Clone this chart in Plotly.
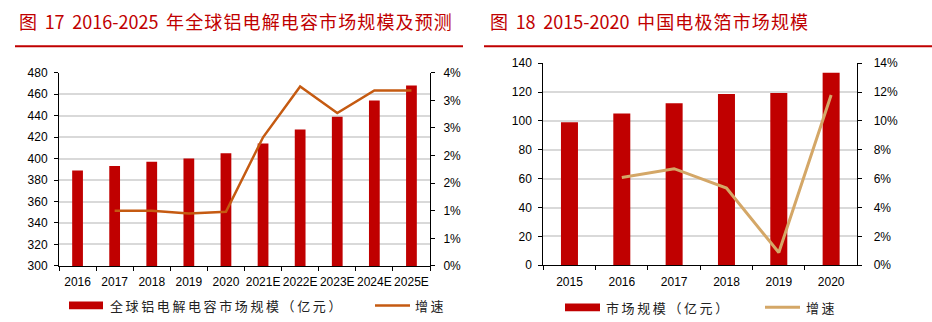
import plotly.graph_objects as go

W, H = 932, 322

# ---- Data: chart 17 ----
years_a = ["2016", "2017", "2018", "2019", "2020", "2021E", "2022E", "2023E", "2024E", "2025E"]
market_a = [389, 393, 397, 400, 405, 414, 427, 439, 454, 468]
growth_years_a = ["2017", "2018", "2019", "2020", "2021E", "2022E", "2023E", "2024E", "2025E"]
growth_a = [0.0100, 0.0100, 0.0095, 0.0098, 0.0233, 0.0325, 0.0277, 0.0318, 0.0318]
left_ticks_a = [300, 320, 340, 360, 380, 400, 420, 440, 460, 480]
right_tickvals_a = [0, 0.005, 0.01, 0.015, 0.02, 0.025, 0.03, 0.035]
right_ticktext_a = ["0%", "1%", "1%", "2%", "2%", "3%", "3%", "4%"]

# ---- Data: chart 18 ----
years_b = ["2015", "2016", "2017", "2018", "2019", "2020"]
market_b = [99, 105.2, 112.2, 118.6, 119.3, 133.4]
growth_years_b = ["2016", "2017", "2018", "2019", "2020"]
growth_b = [0.0608, 0.0669, 0.0535, 0.0088, 0.118]

title_a = "图 17 2016-2025 年全球铝电解电容市场规模及预测"
title_b = "图 18 2015-2020 中国电极箔市场规模"
legend_bar_a = "全球铝电解电容市场规模（亿元）"
legend_bar_b = "市场规模（亿元）"
legend_line = "增速"

BAR = "#C00000"
LINE_A = "#C55A11"
LINE_B = "#D4A767"
RED = "#C00000"
NUM_FONT = "Liberation Sans, Arial, sans-serif"
CJK_FONT = "Noto Sans CJK SC, sans-serif"


def px(x):
    return x / W


def py(y):
    return 1 - y / H


def spaced(s, sep="\u2009"):
    # extra spacing between characters to mimic the wide CJK setting
    return sep.join(s)


def spaced_title(s):
    out = []
    for i, ch in enumerate(s):
        out.append(ch)
        if i + 1 < len(s) and ord(ch) > 0x2E80 and ord(s[i + 1]) > 0x2E80:
            out.append("\u200A")
    return "".join(out)


fig = go.Figure()

fig.add_trace(go.Bar(x=years_a, y=market_a, marker_color=BAR, marker_line_width=0,
                     width=0.29, xaxis="x", yaxis="y", showlegend=False))
fig.add_trace(go.Scatter(x=growth_years_a, y=growth_a, mode="lines",
                         line=dict(color=LINE_A, width=2.5), xaxis="x", yaxis="y2",
                         showlegend=False))
fig.add_trace(go.Bar(x=years_b, y=market_b, marker_color=BAR, marker_line_width=0,
                     width=0.325, xaxis="x3", yaxis="y3", showlegend=False))
fig.add_trace(go.Scatter(x=growth_years_b, y=growth_b, mode="lines",
                         line=dict(color=LINE_B, width=3), xaxis="x3", yaxis="y4",
                         showlegend=False))

tickfont = dict(family=NUM_FONT, size=12, color="#000000")
common_x = dict(type="category", showline=True, linecolor="#000000", linewidth=1,
                ticks="outside", tickson="boundaries", ticklen=4, tickcolor="#000000",
                tickfont=tickfont, showgrid=False, zeroline=False, fixedrange=True,
                tickangle=0, ticklabelstandoff=5)
common_y = dict(showline=True, linecolor="#000000", linewidth=1, ticks="outside",
                ticklen=4, tickcolor="#000000", tickfont=tickfont, zeroline=False,
                fixedrange=True)

fig.update_layout(
    width=W, height=H,
    margin=dict(l=0, r=0, t=0, b=0),
    paper_bgcolor="white", plot_bgcolor="white",
    xaxis=dict(domain=[px(59), px(430)], anchor="y", **common_x),
    yaxis=dict(domain=[py(270.7), py(68.7)], anchor="x", range=[300, 480],
               tickvals=left_ticks_a, showgrid=True, gridcolor="#D9D9D9", gridwidth=1.5,
               ticklabelstandoff=4, **common_y),
    yaxis2=dict(overlaying="y", side="right", anchor="x", range=[0, 0.035],
                tickvals=right_tickvals_a, ticktext=right_ticktext_a, showgrid=False,
                ticklabelstandoff=6, **common_y),
    xaxis3=dict(domain=[px(543.3), px(857.3)], anchor="y3", **common_x),
    yaxis3=dict(domain=[py(270), py(58.7)], anchor="x3", range=[0, 140], dtick=20,
                showgrid=True, gridcolor="#D9D9D9", gridwidth=1.5, ticklabelstandoff=4,
                **common_y),
    yaxis4=dict(overlaying="y3", side="right", anchor="x3", range=[0, 0.14], dtick=0.02,
                tickformat=".0%", showgrid=False, ticklabelstandoff=9, **common_y),
)

shapes = [
    # title underlines
    dict(type="line", xref="paper", yref="paper", x0=px(15), x1=px(463), y0=py(41), y1=py(41),
         line=dict(color=RED, width=2)),
    dict(type="line", xref="paper", yref="paper", x0=px(484), x1=px(932), y0=py(41), y1=py(41),
         line=dict(color=RED, width=2)),
    # legend swatches
    dict(type="rect", xref="paper", yref="paper", x0=px(69), x1=px(103), y0=py(316), y1=py(308),
         fillcolor=BAR, line_width=0),
    dict(type="line", xref="paper", yref="paper", x0=px(375), x1=px(410), y0=py(312), y1=py(312),
         line=dict(color=LINE_A, width=2.5)),
    dict(type="rect", xref="paper", yref="paper", x0=px(565), x1=px(600), y0=py(318), y1=py(310),
         fillcolor=BAR, line_width=0),
    dict(type="line", xref="paper", yref="paper", x0=px(765), x1=px(800), y0=py(314), y1=py(314),
         line=dict(color=LINE_B, width=3)),
]

ann_common = dict(xref="paper", yref="paper", showarrow=False, xanchor="left", yanchor="middle")
annotations = [
    dict(x=px(17), y=py(15), text=spaced_title(title_a).replace(" ", "\u00A0\u2009"),
         font=dict(family=CJK_FONT, size=18, color=RED), **ann_common),
    dict(x=px(488), y=py(15), text=spaced_title(title_b).replace(" ", "\u00A0\u2009"),
         font=dict(family=CJK_FONT, size=18, color=RED), **ann_common),
    dict(x=px(108), y=py(312), text=spaced(legend_bar_a),
         font=dict(family=CJK_FONT, size=13, color="#222222"), **ann_common),
    dict(x=px(413), y=py(312), text=spaced(legend_line),
         font=dict(family=CJK_FONT, size=13, color="#222222"), **ann_common),
    dict(x=px(604), y=py(314), text=spaced(legend_bar_b),
         font=dict(family=CJK_FONT, size=13, color="#222222"), **ann_common),
    dict(x=px(804), y=py(314), text=spaced(legend_line),
         font=dict(family=CJK_FONT, size=13, color="#222222"), **ann_common),
]

fig.update_layout(shapes=shapes, annotations=annotations)

fig.write_html("out.html")
